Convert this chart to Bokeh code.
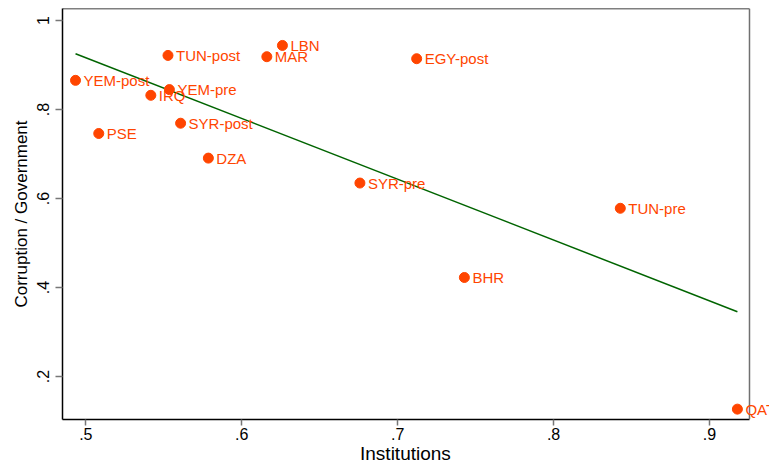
from bokeh.plotting import figure
from bokeh.models import ColumnDataSource, Range1d, FixedTicker, LabelSet, Span
from bokeh.core.properties import value
from bokeh.embed import file_html
from bokeh.resources import INLINE

# ---- data ----
countries = ["YEM-post", "PSE", "IRQ", "YEM-pre", "TUN-post", "SYR-post", "DZA",
             "MAR", "LBN", "EGY-post", "SYR-pre", "BHR", "TUN-pre", "QAT"]
institutions = [0.4934, 0.5083, 0.5417, 0.5536, 0.5527, 0.5608, 0.5786,
                0.6161, 0.6261, 0.7122, 0.6758, 0.7428, 0.8428, 0.9179]
corruption = [0.8656, 0.7462, 0.8320, 0.8448, 0.9216, 0.7693, 0.6909,
              0.9187, 0.9440, 0.9142, 0.6349, 0.4227, 0.5782, 0.1270]

fit_x = [0.4934, 0.9179]
fit_y = [0.9254, 0.3459]

x_ticks = [0.5, 0.6, 0.7, 0.8, 0.9]
x_tick_labels = [".5", ".6", ".7", ".8", ".9"]
y_ticks = [0.2, 0.4, 0.6, 0.8, 1.0]
y_tick_labels = [".2", ".4", ".6", ".8", "1"]

x_title = "Institutions"
y_title = "Corruption / Government"

# plot-region limits (the boxed area) and the visible extent to the right
x_lo, x_hi, x_view = 0.48505, 0.92566, 0.93849
y_lo, y_hi = 0.1037, 1.027

POINT = "#FF4500"
FONT = "Liberation Sans"

src = ColumnDataSource(dict(x=institutions, y=corruption, label=countries))

p = figure(width=769, height=466, output_backend="svg", toolbar_location=None,
           x_range=Range1d(x_lo, x_view), y_range=Range1d(y_lo, y_hi),
           min_border_left=62, min_border_right=0, min_border_top=8,
           min_border_bottom=47)

p.background_fill_color = "white"
p.border_fill_color = "white"
p.outline_line_color = None
p.xgrid.visible = False
p.ygrid.visible = False

# box: top edge (black) and right edge (grey)
p.segment(x0=[x_lo], y0=[y_hi], x1=[x_hi], y1=[y_hi], line_color="black", line_width=1.5)
p.add_layout(Span(location=x_hi, dimension="height", line_color="#707070", line_width=1.5))

p.line(fit_x, fit_y, line_color="#006400", line_width=1.5)
p.scatter("x", "y", source=src, size=10, fill_color=POINT, line_color=POINT)
labels = LabelSet(x="x", y="y", text="label", source=src, x_offset=8, y_offset=0,
                  text_baseline="middle", text_font=value(FONT),
                  text_font_size=value("15px"), text_color=value(POINT))
p.add_layout(labels)

for ax in (p.xaxis[0], p.yaxis[0]):
    ax.axis_line_color = "black"
    ax.axis_line_width = 1.5
    ax.major_tick_line_color = "#777777"
    ax.major_tick_line_width = 1.5
    ax.major_tick_in = 0
    ax.minor_tick_line_color = None
    ax.major_label_text_font = FONT
    ax.major_label_text_font_size = "16px"
    ax.major_label_text_color = "black"
    ax.axis_label_text_font = FONT
    ax.axis_label_text_font_style = "normal"
    ax.axis_label_text_color = "black"

p.xaxis.bounds = (x_lo, x_hi)
p.xaxis.ticker = FixedTicker(ticks=x_ticks)
p.xaxis.major_label_overrides = {t: l for t, l in zip(x_ticks, x_tick_labels)}
p.xaxis.major_tick_out = 6
p.xaxis.major_label_standoff = 2
# trailing no-break spaces keep the title centred under the boxed region
p.xaxis.axis_label = x_title + "\u00a0" * 4
p.xaxis.axis_label_text_font_size = "19px"
p.xaxis.axis_label_standoff = 0

p.yaxis.ticker = FixedTicker(ticks=y_ticks)
p.yaxis.major_label_overrides = {t: l for t, l in zip(y_ticks, y_tick_labels)}
p.yaxis.major_label_orientation = "vertical"
p.yaxis.major_tick_out = 7
p.yaxis.major_label_standoff = 6
p.yaxis.axis_label = y_title
p.yaxis.axis_label_text_font_size = "17px"
p.yaxis.axis_label_standoff = 4

open("out.html", "w").write(file_html(p, INLINE))
